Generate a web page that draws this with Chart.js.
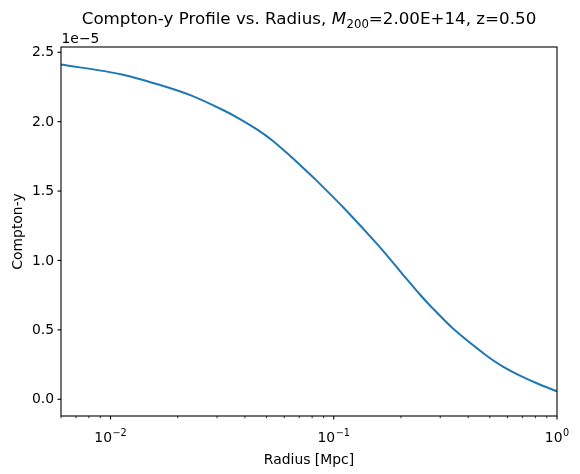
<!DOCTYPE html>
<html>
<head>
<meta charset="utf-8">
<script src="https://cdn.jsdelivr.net/npm/chart.js@4/dist/chart.umd.min.js"></script>
<style>
  html, body { margin: 0; padding: 0; background: #ffffff; }
  canvas { display: block; }
</style>
</head>
<body>
<canvas id="c" width="580" height="474"></canvas>
<script>
// ---- data ----
const radius = [0.006, 0.01113, 0.01681, 0.02292, 0.03188, 0.03799, 0.04528, 0.05341, 0.06366, 0.0728, 0.08235, 0.1099, 0.1562, 0.198, 0.2432, 0.2698, 0.342, 0.4857, 0.5729, 0.6826, 0.822, 1.0];
const comptonY = [2.412e-5, 2.342e-5, 2.262e-5, 2.189e-5, 2.084e-5, 2.019e-5, 1.944e-5, 1.861e-5, 1.754e-5, 1.668e-5, 1.587e-5, 1.385e-5, 1.119e-5, 0.924e-5, 0.755e-5, 0.676e-5, 0.510e-5, 0.312e-5, 0.236e-5, 0.171e-5, 0.112e-5, 0.057e-5];

const yTickValues = [0, 0.5e-5, 1.0e-5, 1.5e-5, 2.0e-5, 2.5e-5];
const yTickLabels = ['0.0', '0.5', '1.0', '1.5', '2.0', '2.5'];
const yOffsetLabel = '1e\u22125';
const xMajorTicks = [0.01, 0.1, 1];
const xMajorExponents = ['\u22122', '\u22121', '0'];
const xMinorTicks = [0.006, 0.007, 0.008, 0.009, 0.02, 0.03, 0.04, 0.05, 0.06, 0.07, 0.08, 0.09, 0.2, 0.3, 0.4, 0.5, 0.6, 0.7, 0.8, 0.9];

const titleParts = ['Compton-y Profile vs. Radius, ', 'M', '200', '=2.00E+14, z=0.50'];
const xAxisTitle = 'Radius [Mpc]';
const yAxisTitle = 'Compton-y';

const FONT = '"DejaVu Sans", sans-serif';

const decorPlugin = {
  id: 'decor',
  afterDraw(chart) {
    const ctx = chart.ctx;
    const a = chart.chartArea;
    const xs = chart.scales.x, ys = chart.scales.y;
    ctx.save();
    ctx.strokeStyle = '#000';
    ctx.fillStyle = '#000';
    ctx.lineWidth = 1.1;
    // frame
    ctx.strokeRect(a.left, a.top, a.right - a.left, a.bottom - a.top);

    // y ticks
    ctx.font = '13.9px ' + FONT;
    ctx.textAlign = 'right';
    ctx.textBaseline = 'middle';
    yTickValues.forEach((v, i) => {
      const py = ys.getPixelForValue(v);
      ctx.beginPath();
      ctx.moveTo(a.left - 3.5, py);
      ctx.lineTo(a.left, py);
      ctx.stroke();
      ctx.fillText(yTickLabels[i], a.left - 7, py + 0.5);
    });

    // offset text
    ctx.textAlign = 'left';
    ctx.textBaseline = 'alphabetic';
    ctx.fillText(yOffsetLabel, a.left + 0.5, 42.5);

    // x minor ticks
    ctx.lineWidth = 0.8;
    xMinorTicks.forEach(v => {
      const px = xs.getPixelForValue(v);
      ctx.beginPath();
      ctx.moveTo(px, a.bottom);
      ctx.lineTo(px, a.bottom + 2.2);
      ctx.stroke();
    });
    // x major ticks + labels
    ctx.lineWidth = 1.1;
    xMajorTicks.forEach((v, i) => {
      const px = xs.getPixelForValue(v);
      ctx.beginPath();
      ctx.moveTo(px, a.bottom);
      ctx.lineTo(px, a.bottom + 3.5);
      ctx.stroke();
      ctx.font = '13.9px ' + FONT;
      const wBase = ctx.measureText('10').width;
      ctx.font = '9.7px ' + FONT;
      const wExp = ctx.measureText(xMajorExponents[i]).width;
      const total = wBase + wExp + 0.5;
      const x0 = px - total / 2;
      ctx.textAlign = 'left';
      ctx.font = '13.9px ' + FONT;
      ctx.fillText('10', x0, 442);
      ctx.font = '9.7px ' + FONT;
      ctx.fillText(xMajorExponents[i], x0 + wBase + 0.5, 435.5);
    });

    // x axis title
    ctx.font = '13.9px ' + FONT;
    ctx.textAlign = 'center';
    ctx.fillText(xAxisTitle, (a.left + a.right) / 2, 464);

    // y axis title
    ctx.save();
    ctx.translate(22, (a.top + a.bottom) / 2);
    ctx.rotate(-Math.PI / 2);
    ctx.textAlign = 'center';
    ctx.fillText(yAxisTitle, 0, 0);
    ctx.restore();

    // title with italic M and subscript 200
    const fN = '16.7px ' + FONT;
    const fI = 'italic 16.7px ' + FONT;
    const fS = '11.7px ' + FONT;
    ctx.font = fN; const w0 = ctx.measureText(titleParts[0]).width;
    ctx.font = fI; const w1 = ctx.measureText(titleParts[1]).width;
    ctx.font = fS; const w2 = ctx.measureText(titleParts[2]).width;
    ctx.font = fN; const w3 = ctx.measureText(titleParts[3]).width;
    const tw = w0 + w1 + w2 + w3 + 0.5;
    let tx = (a.left + a.right) / 2 - tw / 2;
    const tb = 24;
    ctx.textAlign = 'left';
    ctx.font = fN; ctx.fillText(titleParts[0], tx, tb); tx += w0;
    ctx.font = fI; ctx.fillText(titleParts[1], tx, tb); tx += w1 + 0.5;
    ctx.font = fS; ctx.fillText(titleParts[2], tx, tb + 3.5); tx += w2;
    ctx.font = fN; ctx.fillText(titleParts[3], tx, tb);
    ctx.restore();
  }
};

new Chart(document.getElementById('c'), {
  type: 'line',
  data: {
    datasets: [{
      data: radius.map((r, i) => ({ x: r, y: comptonY[i] })),
      borderColor: '#1f77b4',
      borderWidth: 2,
      pointRadius: 0,
      fill: false,
      tension: 0.3
    }]
  },
  options: {
    responsive: false,
    animation: false,
    devicePixelRatio: 1,
    layout: { padding: { top: 47, right: 23, left: 0, bottom: 0 } },
    plugins: { legend: { display: false }, title: { display: false }, tooltip: { enabled: false } },
    scales: {
      x: {
        type: 'logarithmic',
        min: 0.006, max: 1,
        grid: { display: false },
        border: { display: false },
        ticks: { display: false },
        afterFit(s) { s.height = 58; }
      },
      y: {
        type: 'linear',
        min: -0.1205e-5, max: 2.538e-5,
        grid: { display: false },
        border: { display: false },
        ticks: { display: false },
        afterFit(s) { s.width = 61; }
      }
    }
  },
  plugins: [decorPlugin]
});
</script>
</body>
</html>
